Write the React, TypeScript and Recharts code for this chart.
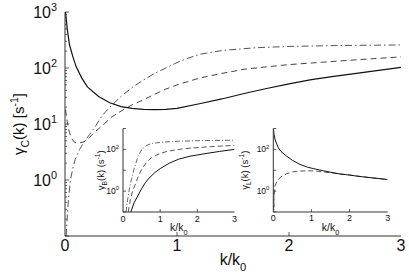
import React from "react";
import { LineChart, Line, XAxis, YAxis, CartesianGrid } from "recharts";

const FONT = "'Liberation Sans', Arial, Helvetica, sans-serif";
const INK = "#111";
const FRAME = "#333";

// main panel: gamma_C(k)
const mainSolidK = [0.005, 0.02, 0.04, 0.07, 0.1, 0.15, 0.2, 0.3, 0.4, 0.5, 0.6, 0.7, 0.8, 0.9, 1.0, 1.2, 1.4, 1.6, 1.8, 2.0, 2.2, 2.4, 2.6, 2.8, 3.0];
const mainSolidV = [1000, 500, 260, 160, 105, 66, 46, 31, 24, 20.5, 19, 18.2, 18, 18.3, 19, 23, 28, 35, 43, 52, 62, 71, 80, 91, 103];

const mainDashK = [0.005, 0.02, 0.04, 0.06, 0.08, 0.1, 0.13, 0.17, 0.22, 0.27, 0.35, 0.42, 0.5, 0.6, 0.7, 0.8, 0.9, 1.0, 1.2, 1.4, 1.6, 1.8, 2.0, 2.3, 2.6, 3.0];
const mainDashV = [18, 11, 7, 5.5, 4.8, 4.6, 4.6, 4.8, 5.8, 7.3, 10, 13.5, 17, 22, 27, 34, 42, 50, 66, 80, 95, 105, 115, 127, 140, 158];

const mainDotK = [0.01, 0.03, 0.05, 0.07, 0.09, 0.13, 0.17, 0.22, 0.27, 0.33, 0.4, 0.5, 0.6, 0.7, 0.8, 0.9, 1.0, 1.1, 1.2, 1.4, 1.7, 2.0, 2.5, 3.0];
const mainDotV = [0.1, 0.45, 1.05, 1.6, 2.3, 3.5, 4.8, 6.5, 9, 14, 20, 31, 45, 61, 80, 100, 125, 150, 175, 205, 230, 243, 253, 258];

// inset: gamma_B(k)
const bSolidK = [0.21, 0.3, 0.41, 0.5, 0.6, 0.7, 0.85, 1.0, 1.25, 1.5, 1.8, 2.2, 2.6, 3.0];
const bSolidV = [0.1, 0.28, 0.65, 1.3, 2.5, 4.2, 7.5, 12, 22, 34, 47, 62, 80, 100];
const bDashK = [0.14, 0.2, 0.26, 0.32, 0.4, 0.5, 0.6, 0.77, 1.0, 1.22, 1.6, 1.94, 2.5, 3.0];
const bDashV = [0.1, 0.4, 1.0, 1.9, 4.5, 11, 20, 41, 64, 83, 105, 120, 140, 155];
const bDotK = [0.08, 0.14, 0.18, 0.23, 0.3, 0.41, 0.5, 0.6, 0.68, 0.85, 1.04, 1.5, 2.0, 3.0];
const bDotV = [0.1, 0.6, 1.5, 3.9, 12, 49, 95, 140, 170, 200, 220, 245, 260, 275];

// inset: gamma_L(k)
const lSolidK = [0.005, 0.02, 0.05, 0.13, 0.2, 0.35, 0.5, 0.7, 0.9, 1.05, 1.3, 1.75, 2.0, 2.2, 2.6, 3.0];
const lSolidV = [1000, 500, 280, 120, 80, 47, 30, 19, 14, 12, 9.5, 6.6, 5.9, 5.2, 4.3, 3.6];
const lDashK = [0.005, 0.02, 0.05, 0.1, 0.2, 0.35, 0.52, 0.7, 0.88, 1.05, 1.31, 1.6, 2.0, 2.5, 3.0];
const lDashV = [0.12, 0.6, 1.8, 3.2, 4.8, 6.8, 8.5, 9.2, 9.4, 9.3, 8.3, 7.2, 5.9, 4.5, 3.6];
const lDotK = [0.003, 0.008, 0.015, 0.022];
const lDotV = [8, 3, 0.8, 0.1];

const xTicks = [0, 1, 2, 3];
const mainLogTicks = [0.1, 0.2, 0.3, 0.4, 0.5, 0.6, 0.7, 0.8, 0.9, 1, 2, 3, 4, 5, 6, 7, 8, 9, 10, 20, 30, 40, 50, 60, 70, 80, 90, 100, 200, 300, 400, 500, 600, 700, 800, 900, 1000];
const insetLogTicks = [0.1, 1, 10, 100, 1000];

const pts = (ks: number[], vs: number[]) => ks.map((k, i) => ({ k, v: vs[i] }));

const isDecade = (v: number) => {
  const l = Math.log10(v);
  return Math.abs(l - Math.round(l)) < 1e-9;
};

function LogTick(props: any) {
  const { x, y, payload, side, len, fs, show, gap } = props;
  const v = payload.value;
  const dec = isDecade(v);
  const e = Math.round(Math.log10(v));
  const dir = side === "left" ? 1 : -1;
  const l = dec ? len : len * 0.5;
  return (
    <g>
      <line x1={x} x2={x + dir * l} y1={y} y2={y} stroke={FRAME} strokeWidth={0.8} />
      {side === "left" && dec && show.includes(e) && (
        <text x={x - gap} y={y + fs * 0.36} textAnchor="end" fontSize={fs} fill={INK} fontFamily={FONT}>
          10<tspan dy={-fs * 0.45} fontSize={fs * 0.68}>{e}</tspan>
        </text>
      )}
    </g>
  );
}

function LinTick(props: any) {
  const { x, y, payload, side, len, fs, gap } = props;
  const v = payload.value;
  const edge = v === 0 || v === 3;
  const dir = side === "bottom" ? -1 : 1;
  return (
    <g>
      {!edge && <line x1={x} x2={x} y1={y} y2={y + dir * len} stroke={FRAME} strokeWidth={0.8} />}
      {side === "bottom" && (
        <text x={x} y={y + gap} textAnchor="middle" fontSize={fs} fill={INK} fontFamily={FONT}>
          {v}
        </text>
      )}
    </g>
  );
}

function xLabel(fs: number, drop: number) {
  return (p: any) => {
    const vb = p.viewBox;
    return (
      <text x={vb.x + vb.width / 2} y={vb.y + drop} textAnchor="middle" fontSize={fs} fill={INK} fontFamily={FONT}>
        k/k<tspan dy={fs * 0.35} fontSize={fs * 0.7}>0</tspan>
      </text>
    );
  };
}

function gammaLabel(sub: string, fs: number, off: number, brackets: [string, string]) {
  return (p: any) => {
    const vb = p.viewBox;
    const cx = vb.x + vb.width - off;
    const cy = vb.y + vb.height / 2;
    return (
      <text x={cx} y={cy} transform={`rotate(-90 ${cx} ${cy})`} textAnchor="middle" fontSize={fs} fill={INK} fontFamily={FONT}>
        γ<tspan dy={fs * 0.3} fontSize={fs * 0.7}>{sub}</tspan>
        <tspan dy={-fs * 0.3}>{`(k) ${brackets[0]}s`}</tspan>
        <tspan dy={-fs * 0.42} fontSize={fs * 0.7}>-1</tspan>
        <tspan dy={fs * 0.42}>{brackets[1]}</tspan>
      </text>
    );
  };
}

// left/plotRight are page pixels; yw = y axis width, so the plot starts at left + yw
function Inset({ left, plotRight, yw, off, sub, solid, dash, dot }: any) {
  const pad = 6;
  return (
    <div style={{ position: "absolute", left, top: 124 }}>
      <LineChart width={plotRight - left + pad} height={114} margin={{ top: 4.5, right: pad, bottom: 0, left: 0 }}>
        <CartesianGrid horizontal={false} vertical={false} fill="#fff" xAxisId="b" yAxisId="l" />
        <XAxis xAxisId="b" dataKey="k" type="number" domain={[0, 3]} ticks={xTicks} interval={0} height={26}
          stroke={FRAME} tickSize={0} tickMargin={0} allowDataOverflow
          tick={(p: any) => <LinTick {...p} side="bottom" len={3} fs={9} gap={9.5} />}
          label={xLabel(10.5, 19)} />
        <XAxis xAxisId="t" orientation="top" dataKey="k" type="number" domain={[0, 3]} ticks={xTicks} interval={0} height={0}
          stroke={FRAME} tickSize={0} tickMargin={0} allowDataOverflow
          tick={(p: any) => <LinTick {...p} side="top" len={3} fs={9} gap={0} />} />
        <YAxis yAxisId="l" scale="log" type="number" domain={[0.1, 1000]} ticks={insetLogTicks} interval={0} width={yw}
          stroke={FRAME} tickSize={0} tickMargin={0} allowDataOverflow
          tick={(p: any) => <LogTick {...p} side="left" len={3} fs={8.5} gap={4} show={[0, 2]} />}
          label={gammaLabel(sub, 9.5, off, ["(", ")"])} />
        <YAxis yAxisId="r" orientation="right" scale="log" type="number" domain={[0.1, 1000]} ticks={insetLogTicks} interval={0} width={0}
          stroke={FRAME} tickSize={0} tickMargin={0} allowDataOverflow
          tick={(p: any) => <LogTick {...p} side="right" len={3} fs={8.5} gap={4} show={[]} />} />
        <Line xAxisId="b" yAxisId="l" data={dot} dataKey="v" stroke="#555" strokeWidth={0.9} strokeDasharray="5 2 1 2" dot={false} isAnimationActive={false} />
        <Line xAxisId="b" yAxisId="l" data={dash} dataKey="v" stroke="#444" strokeWidth={0.9} strokeDasharray="5 3" dot={false} isAnimationActive={false} />
        <Line xAxisId="b" yAxisId="l" data={solid} dataKey="v" stroke="#111" strokeWidth={1} dot={false} isAnimationActive={false} />
      </LineChart>
    </div>
  );
}

export default function App() {
  return (
    <div style={{ position: "absolute", left: 0, top: 0, width: 409, height: 273, background: "#fff" }}>
      <LineChart width={409} height={273} margin={{ top: 12, right: 8, bottom: 0, left: 0 }}>
        <XAxis xAxisId="b" dataKey="k" type="number" domain={[0, 3]} ticks={xTicks} interval={0} height={37}
          stroke={FRAME} tickSize={0} tickMargin={0} allowDataOverflow
          tick={(p: any) => <LinTick {...p} side="bottom" len={4} fs={16} gap={15} />}
          label={xLabel(16, 29)} />
        <XAxis xAxisId="t" orientation="top" dataKey="k" type="number" domain={[0, 3]} ticks={xTicks} interval={0} height={0}
          stroke={FRAME} tickSize={0} tickMargin={0} allowDataOverflow
          tick={(p: any) => <LinTick {...p} side="top" len={4} fs={16} gap={0} />} />
        <YAxis yAxisId="l" scale="log" type="number" domain={[0.1, 1000]} ticks={mainLogTicks} interval={0} width={65}
          stroke={FRAME} tickSize={0} tickMargin={0} allowDataOverflow
          tick={(p: any) => <LogTick {...p} side="left" len={4} fs={16} gap={8} show={[0, 1, 2, 3]} />}
          label={gammaLabel("C", 15, 41, ["[", "]"])} />
        <YAxis yAxisId="r" orientation="right" scale="log" type="number" domain={[0.1, 1000]} ticks={mainLogTicks} interval={0} width={0}
          stroke={FRAME} tickSize={0} tickMargin={0} allowDataOverflow
          tick={(p: any) => <LogTick {...p} side="right" len={4} fs={16} gap={8} show={[]} />} />
        <Line xAxisId="b" yAxisId="l" data={pts(mainDotK, mainDotV)} dataKey="v" stroke="#555" strokeWidth={1} strokeDasharray="7 3 1.5 3" dot={false} isAnimationActive={false} />
        <Line xAxisId="b" yAxisId="l" data={pts(mainDashK, mainDashV)} dataKey="v" stroke="#444" strokeWidth={1} strokeDasharray="6 4" dot={false} isAnimationActive={false} />
        <Line xAxisId="b" yAxisId="l" data={pts(mainSolidK, mainSolidV)} dataKey="v" stroke="#111" strokeWidth={1.2} dot={false} isAnimationActive={false} />
      </LineChart>
      <Inset left={86} plotRight={234.5} yw={37} off={19} sub="B" solid={pts(bSolidK, bSolidV)} dash={pts(bDashK, bDashV)} dot={pts(bDotK, bDotV)} />
      <Inset left={236} plotRight={387.7} yw={37.3} off={25} sub="L" solid={pts(lSolidK, lSolidV)} dash={pts(lDashK, lDashV)} dot={pts(lDotK, lDotV)} />
    </div>
  );
}
